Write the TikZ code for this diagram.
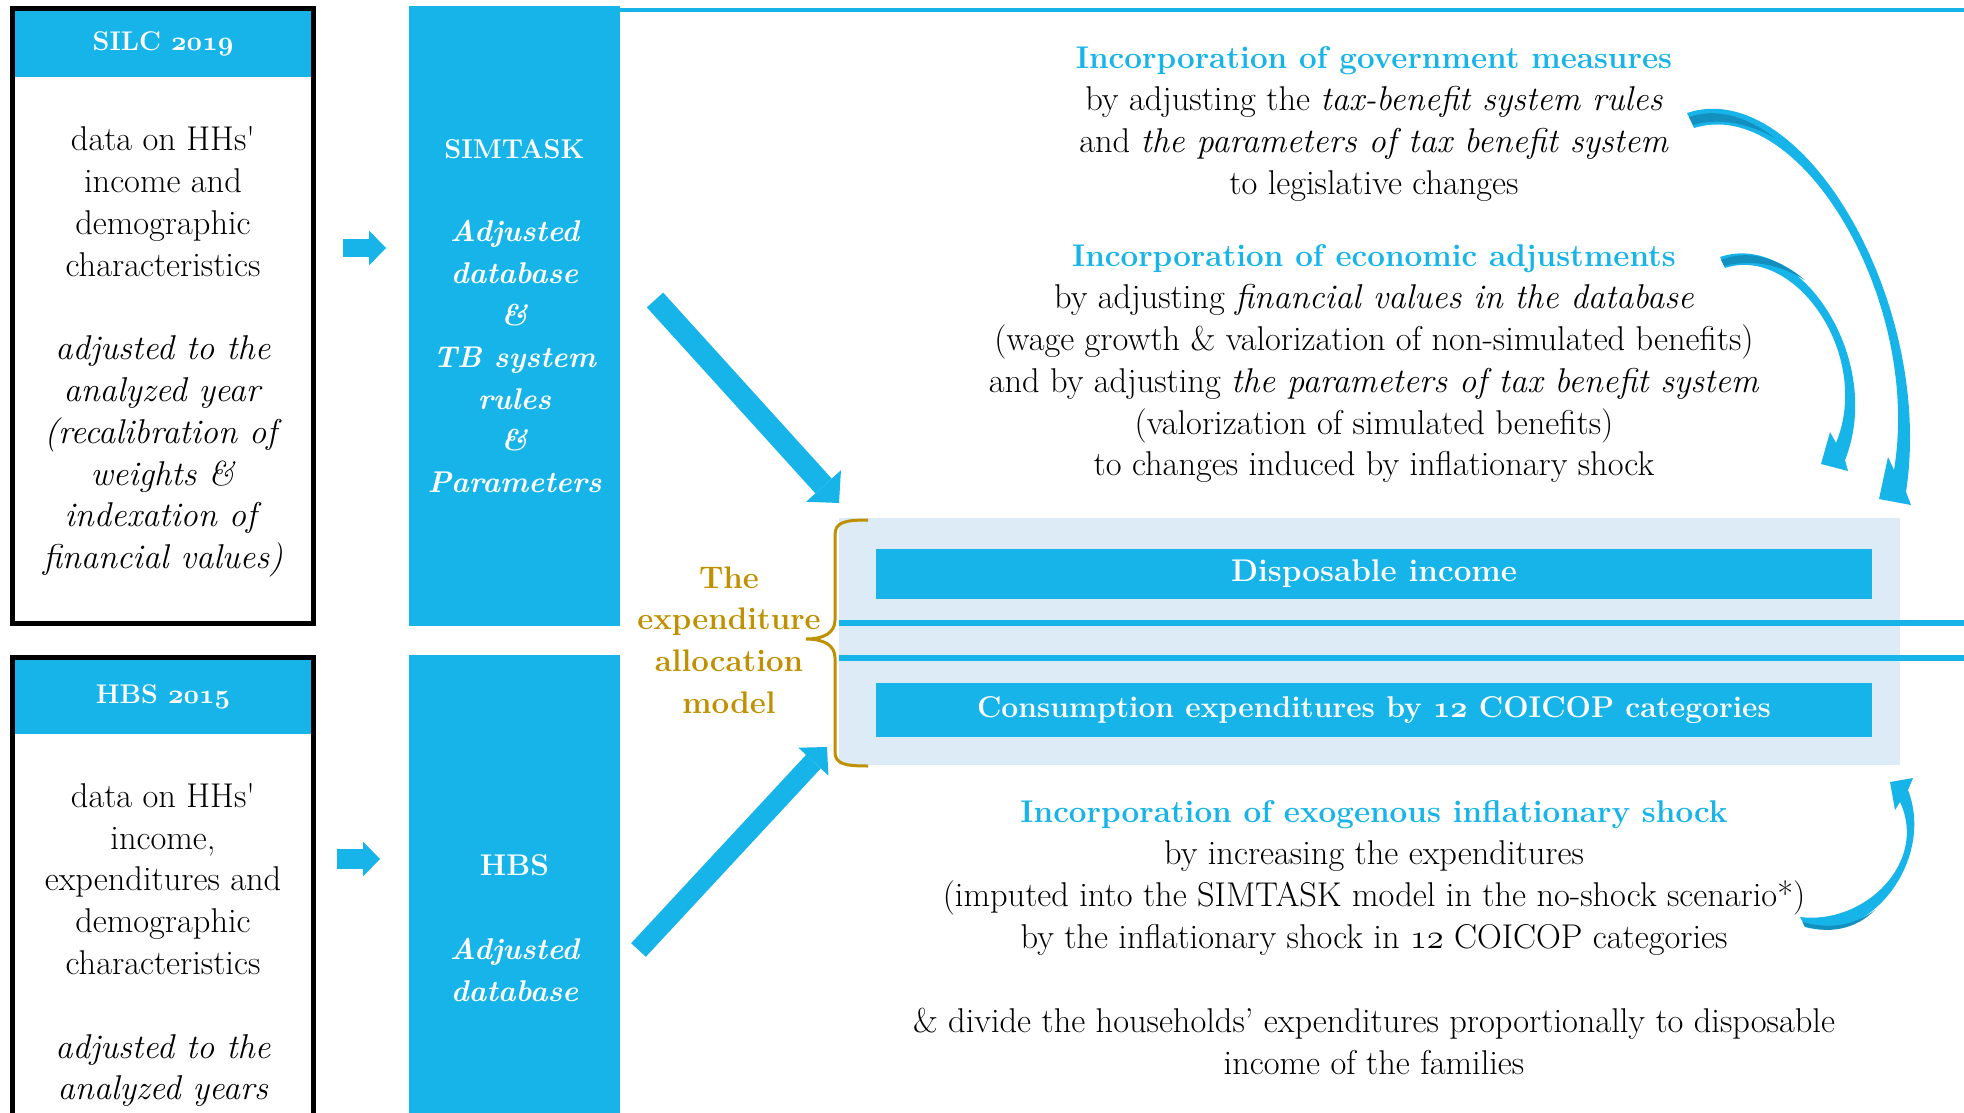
\RequirePackage{fix-cm}
\documentclass[tikz,border=0pt]{standalone}
\usepackage{fontspec}
\usetikzlibrary{arrows.meta}

\definecolor{simblue}{HTML}{16B4E9}
\definecolor{simdark}{HTML}{1390BF}
\definecolor{panelblue}{HTML}{DDEBF7}
\definecolor{allocgold}{HTML}{BF9000}

\newcommand{\txtsize}{\fontsize{17.2}{20.9}\selectfont}
\newcommand{\hdsize}{\fontsize{15.7}{20.9}\selectfont}
\newcommand{\colsize}{\fontsize{15}{20.9}\selectfont}
\newcommand{\osn}[1]{\ensuremath{\mathnormal{#1}}}

\tikzset{
  srcbox/.style={draw=black, line width=2.5pt, fill=white, inner sep=0pt, outer sep=0pt,
    anchor=north west, minimum width=150.5pt},
  srchead/.style={fill=simblue, text=white, inner sep=0pt, outer sep=0pt,
    anchor=north west, minimum width=148pt, font=\fontsize{13.5}{16}\selectfont\bfseries\boldmath},
  dbcol/.style={fill=simblue, text=white, inner sep=0pt, outer sep=0pt, anchor=north west,
    minimum width=105.5pt, align=center, font=\colsize\bfseries\itshape},
  bodytext/.style={align=center, font=\txtsize, inner sep=0pt},
  resultbar/.style={fill=simblue, text=white, inner sep=0pt, outer sep=0pt, anchor=north west,
    minimum width=498pt, font=\hdsize\bfseries\boldmath},
  frameline/.style={draw=simblue, line width=3pt},
  feedarrow/.style={draw=simblue, line width=9pt,
    -{Triangle[length=8.5pt, width=17.5pt, line width=0pt]}},
  bigarrow/.style={draw=simblue, line width=11pt,
    -{Triangle[length=11.5pt, width=23.5pt, line width=0pt]}},
}

\begin{document}
\begin{tikzpicture}[x=0.5pt, y=-0.5pt]
\clip (0,0) rectangle (1964,1113);

% input data sets
\node[srcbox, minimum height=307.5pt] (silc) at (12.5,8.5) {};
\node[srchead, minimum height=33pt] (silchead) at (15,11) {SILC \osn{2019}};
\node[bodytext] (silctext) at (163,352) {data on HHs\textquotesingle\\income and\\demographic\\characteristics\\[20.9pt]
  \textit{adjusted to the}\\\textit{analyzed year}\\\textit{(recalibration of}\\\textit{weights \&}\\
  \textit{indexation of}\\\textit{financial values)}};

\node[srcbox, minimum height=271.25pt] (hbs) at (12.5,657.5) {};
\node[srchead, minimum height=37pt] (hbshead) at (15,660) {HBS \osn{2015}};
\node[bodytext] (hbstext) at (163,945) {data on HHs\textquotesingle\\income,\\expenditures and\\demographic\\characteristics\\[20.9pt]
  \textit{adjusted to the}\\\textit{analyzed years}};

% adjusted databases
\node[dbcol, minimum height=310pt] (simtask) at (409,6) {{\upshape\fontsize{13.6}{20.9}\selectfont SIMTASK}\\[20.9pt]Adjusted\\database\\\&\\TB system\\rules\\\&\\Parameters};
\node[dbcol, minimum height=273pt] (hbscol) at (409,655) {{\upshape HBS}\\[20.9pt]Adjusted\\database};

\draw[simblue, line width=2pt] (simtask.north east) ++(0,4) -- (1964,10);

% allocation model
\node[fill=panelblue, anchor=north west, inner sep=0pt, outer sep=0pt,
  minimum width=530.5pt, minimum height=123.5pt] (panel) at (839,518) {};
\draw[frameline] (panel.west |- 0,623) -- (1964,623);
\draw[frameline] (panel.west |- 0,658) -- (1964,658);
\node[resultbar, minimum height=25pt] (dispinc) at (876,549) {Disposable income};
\node[resultbar, minimum height=27pt, font=\colsize\bfseries\boldmath] (consexp) at (876,683) {Consumption expenditures by \osn{12} COICOP categories};

\draw[allocgold, line width=1.5pt] (868,520) .. controls (845,520) and (835,522) .. (835,535) -- (835,620)
  .. controls (835,632) and (825,639) .. (806,639) .. controls (825,639) and (835,646) .. (835,658)
  -- (835,752) .. controls (835,764) and (845,766) .. (868,766);
\node[align=center, text=allocgold, font=\fontsize{15.6}{20.9}\selectfont\bfseries, inner sep=0pt] (alloc) at (729,640) {The\\expenditure\\allocation\\model};

% texts
\node[bodytext] (govt) at (1374,124) {{\color{simblue}\hdsize\bfseries Incorporation of government measures}\\
  by adjusting the \textit{tax-benefit system rules}\\and \textit{the parameters of tax benefit system}\\to legislative changes};
\node[bodytext] (econ) at (1374,364) {{\color{simblue}\hdsize\bfseries Incorporation of economic adjustments}\\
  by adjusting \textit{financial values in the database}\\(wage growth \& valorization of non-simulated benefits)\\
  and by adjusting \textit{the parameters of tax benefit system}\\(valorization of simulated benefits)\\to changes induced by inflationary shock};
\node[bodytext] (shock) at (1374,878) {{\color{simblue}\hdsize\bfseries Incorporation of exogenous inflationary shock}\\
  by increasing the expenditures\\(imputed into the SIMTASK model in the no-shock scenario*)\\
  by the inflationary shock in \osn{12} COICOP categories};
\node[bodytext] (divide) at (1374,1041.5) {\& divide the households’ expenditures proportionally to disposable\\income of the families};

% straight arrows
\coordinate (silcout) at (343,248);
\coordinate (simin) at (386,248);
\coordinate (hbsout) at (337,859);
\coordinate (hbsin) at (380,859);
\draw[feedarrow] (silcout) -- (simin);
\draw[feedarrow, line width=10pt] (hbsout) -- (hbsin);

\coordinate (simout) at (655,300);
\coordinate (panelin) at (839,503);
\coordinate (hbscolout) at (638.5,950);
\coordinate (panelin2) at (827,747);
\draw[bigarrow] (simout) -- (panelin);
\draw[bigarrow, line width=10pt, -{Triangle[length=10pt, width=20.5pt, line width=0pt]}] (hbscolout) -- (panelin2);

% curved arrows
\fill[simblue] (1687,113) .. controls (1800,75) and (1935,300) .. (1906,492) -- (1911,505) -- (1879,499)
  -- (1888,457) -- (1894,470) .. controls (1922,300) and (1800,95) .. (1694,128) -- cycle;
\fill[simdark] (1689,117) .. controls (1715,108) and (1745,115) .. (1775,138)
  .. controls (1745,122) and (1718,118) .. (1693,125) -- cycle;

\fill[simblue] (1720,257) .. controls (1800,230) and (1885,360) .. (1845,460) -- (1848,471) -- (1821,464)
  -- (1830,432) -- (1836,443) .. controls (1872,355) and (1795,245) .. (1725,268) -- cycle;
\fill[simdark] (1721,260) .. controls (1745,250) and (1775,255) .. (1805,280)
  .. controls (1775,262) and (1748,260) .. (1724,266) -- cycle;

\fill[simblue] (1805,927) .. controls (1870,945) and (1935,860) .. (1908,790) -- (1913,778) -- (1890,782)
  -- (1895,810) -- (1900,802) .. controls (1928,862) and (1865,925) .. (1800,917) -- cycle;
\fill[simdark] (1803,922) .. controls (1830,930) and (1855,925) .. (1875,910)
  .. controls (1855,930) and (1828,934) .. (1804,926) -- cycle;
\end{tikzpicture}
\end{document}
